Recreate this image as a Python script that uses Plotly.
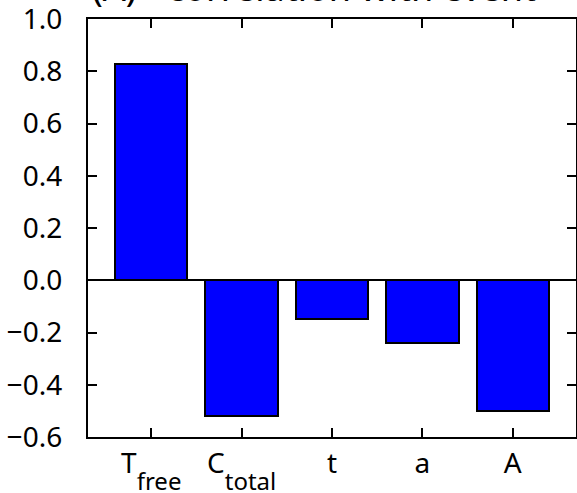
import plotly.graph_objects as go

main_labels = ["T", "C", "t", "a", "A"]
sub_labels = ["free", "total", "", "", ""]
positions = [0, 1, 2, 3, 4]
values = [0.83, -0.52, -0.15, -0.24, -0.50]
y_ticks = [-0.6, -0.4, -0.2, 0.0, 0.2, 0.4, 0.6, 0.8, 1.0]
title_text = "(A) - correlation with event"

FONT = "Noto Sans"
SUB_SIZE = 24
HIDE = "rgba(0,0,0,0)"
XRANGE = [-0.7, 4.7]

top_text = [m + (f"<span style='font-size:{SUB_SIZE}px;color:{HIDE}'>{s}</span>" if s else "")
            for m, s in zip(main_labels, sub_labels)]
low_text = [(f"<span style='color:{HIDE}'>{m}</span><span style='font-size:{SUB_SIZE}px'>{s}</span>" if s else "")
            for m, s in zip(main_labels, sub_labels)]

fig = go.Figure()
fig.add_trace(go.Bar(
    x=positions, y=values, width=0.8,
    marker=dict(color="#0000ff", line=dict(color="black", width=2)),
    hoverinfo="skip",
))
# invisible helper trace so the subscript label axis is drawn
fig.add_trace(go.Scatter(
    x=positions, y=values, xaxis="x2", mode="markers",
    marker=dict(opacity=0), hoverinfo="skip", showlegend=False,
))

fig.update_layout(
    width=577, height=493,
    margin=dict(l=88, r=1, t=19, b=56, autoexpand=False),
    paper_bgcolor="white", plot_bgcolor="white",
    font=dict(family=FONT, size=28, color="black"),
    showlegend=False,
    bargap=0,
    xaxis=dict(
        range=XRANGE, tickvals=positions, ticktext=top_text,
        ticks="inside", ticklen=9, tickwidth=1.5, tickcolor="black",
        showline=True, linewidth=2, linecolor="black", mirror="ticks",
        showgrid=False, zeroline=False, ticklabelstandoff=0, automargin=False,
    ),
    xaxis2=dict(
        overlaying="x", anchor="y", side="bottom", range=XRANGE,
        tickvals=positions, ticktext=low_text, ticks="", showline=False,
        showgrid=False, zeroline=False, ticklabelstandoff=24, automargin=False,
    ),
    yaxis=dict(
        range=[-0.6, 1.0005], tickvals=y_ticks, tickformat=".1f",
        ticks="inside", ticklen=9, tickwidth=1.5, tickcolor="black",
        showline=True, linewidth=2, linecolor="black", mirror="ticks",
        showgrid=False, zeroline=True, zerolinecolor="black", zerolinewidth=2,
        ticklabelstandoff=18, ticklabeloverflow="allow", automargin=False,
    ),
)
fig.add_annotation(
    text=title_text, xref="paper", yref="paper", x=0.5, y=1,
    xanchor="center", yanchor="bottom", yshift=5, xshift=-18, showarrow=False,
    font=dict(family=FONT, size=36, color="black"),
)
fig.write_html("out.html", config={"displayModeBar": False},
               post_script="document.body.style.margin='0';document.body.style.overflow='hidden';")
